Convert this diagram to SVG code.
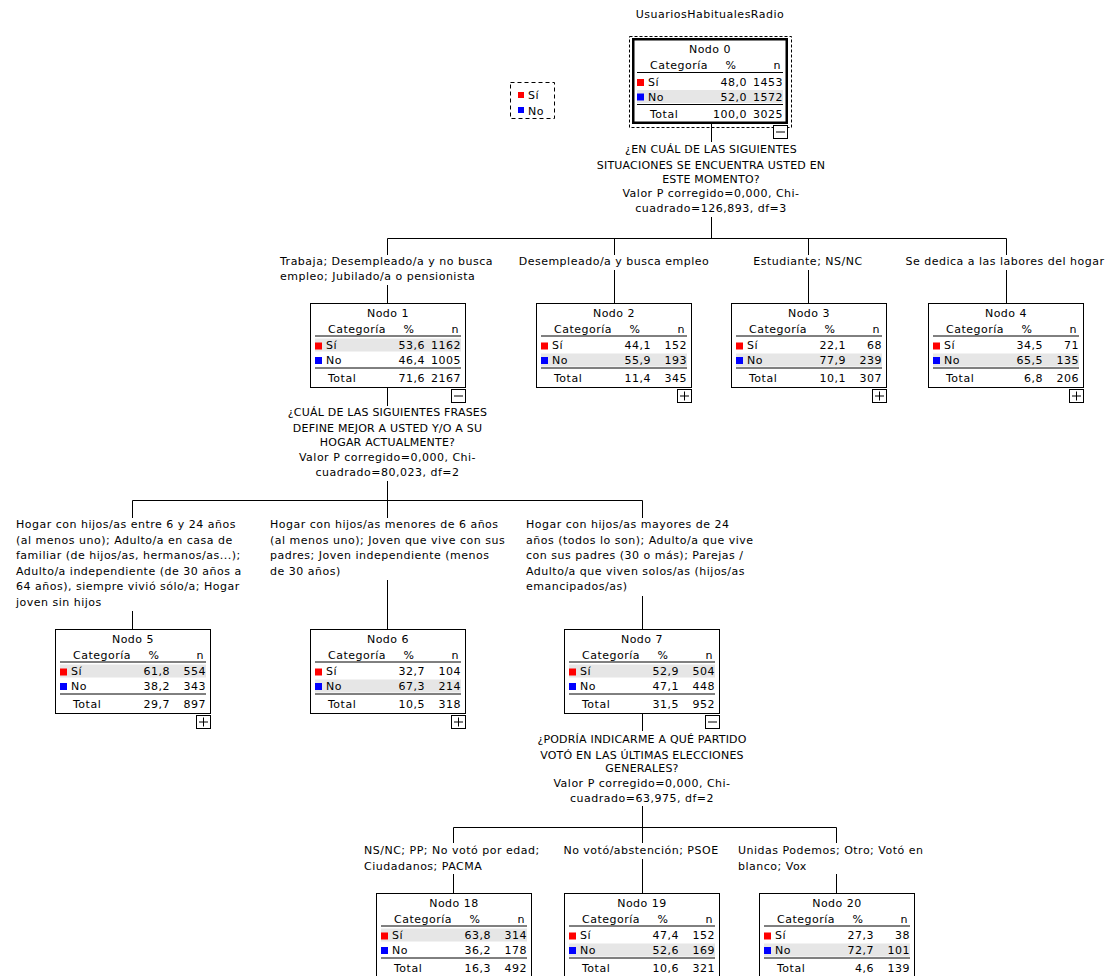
<svg xmlns="http://www.w3.org/2000/svg" width="1106" height="976" viewBox="0 0 1106 976">
<style>
text{font-family:"DejaVu Sans",sans-serif;font-size:11px;letter-spacing:0.5px;fill:#000}
.u{letter-spacing:0.2px}
.m{text-anchor:middle}
.e{text-anchor:end}
.box{fill:#fff;stroke:#000;stroke-width:1}
.band{fill:#e6e6e6}
.ln{stroke:#000;stroke-width:1;fill:none}
.r{fill:#ff0000}
.b{fill:#0000ff}
.dash{fill:none;stroke:#000;stroke-width:1;stroke-dasharray:3 2}
</style>
<rect width="1106" height="976" fill="#fff"/>
<text class="m" x="710" y="18">UsuariosHabitualesRadio</text>

<g id="legend">
<rect x="510.5" y="82.5" width="44" height="36" fill="none" stroke="#000" stroke-dasharray="4 3"/>
<rect class="r" x="518" y="92" width="6" height="6"/>
<text x="528" y="99">Sí</text>
<rect class="b" x="518" y="107" width="6" height="6"/>
<text x="528" y="114.5">No</text>
</g>

<g id="connectors">
<path class="ln" d="M711.5 124V142M711.5 217V238.5M387.5 238.5H1006.5M387.5 238.5V255M614.5 238.5V255M808.5 238.5V255M1006.5 238.5V255M387.5 285V303M614.5 270V303M808.5 270V303M1006.5 270V303"/>
<path class="ln" d="M387.5 388V406M387.5 481V500.5M132.5 500.5H642.5M132.5 500.5V518M387.5 500.5V518M642.5 500.5V518M132.5 611V629M387.5 580V629M642.5 596V629"/>
<path class="ln" d="M642.5 714V731M642.5 806V827.5M453.5 827.5H836.5M453.5 827.5V843M642.5 827.5V843M836.5 827.5V843M453.5 874V893M642.5 859V893M836.5 874V893"/>
</g>

<g id="splits">
<text class="u m" x="711" y="153">¿EN CUÁL DE LAS SIGUIENTES</text>
<text class="u m" x="711" y="169">SITUACIONES SE ENCUENTRA USTED EN</text>
<text class="u m" x="711" y="182.5">ESTE MOMENTO?</text>
<text class="m" x="711" y="196.5">Valor P corregido=0,000, Chi-</text>
<text class="m" x="711" y="212">cuadrado=126,893, df=3</text>

<text x="280" y="265">Trabaja; Desempleado/a y no busca</text>
<text x="280" y="280">empleo; Jubilado/a o pensionista</text>
<text class="m" x="614" y="265">Desempleado/a y busca empleo</text>
<text class="m" x="808" y="265">Estudiante; NS/NC</text>
<text class="m" x="1005" y="265">Se dedica a las labores del hogar</text>

<text class="u m" x="387.5" y="416">¿CUÁL DE LAS SIGUIENTES FRASES</text>
<text class="u m" x="387.5" y="431.5">DEFINE MEJOR A USTED Y/O A SU</text>
<text class="u m" x="387.5" y="446">HOGAR ACTUALMENTE?</text>
<text class="m" x="387.5" y="460.5">Valor P corregido=0,000, Chi-</text>
<text class="m" x="387.5" y="476">cuadrado=80,023, df=2</text>

<text x="16" y="528">Hogar con hijos/as entre 6 y 24 años</text>
<text x="16" y="543.5">(al menos uno); Adulto/a en casa de</text>
<text x="16" y="559">familiar (de hijos/as, hermanos/as...);</text>
<text x="16" y="574.5">Adulto/a independiente (de 30 años a</text>
<text x="16" y="590">64 años), siempre vivió sólo/a; Hogar</text>
<text x="16" y="605.5">joven sin hijos</text>

<text x="270" y="528">Hogar con hijos/as menores de 6 años</text>
<text x="270" y="543.5">(al menos uno); Joven que vive con sus</text>
<text x="270" y="559">padres; Joven independiente (menos</text>
<text x="270" y="574.5">de 30 años)</text>

<text x="526" y="528">Hogar con hijos/as mayores de 24</text>
<text x="526" y="543.5">años (todos lo son); Adulto/a que vive</text>
<text x="526" y="559">con sus padres (30 o más); Parejas /</text>
<text x="526" y="574.5">Adulto/a que viven solos/as (hijos/as</text>
<text x="526" y="590">emancipados/as)</text>

<text class="u m" x="642" y="742.5">¿PODRÍA INDICARME A QUÉ PARTIDO</text>
<text class="u m" x="642" y="758.5">VOTÓ EN LAS ÚLTIMAS ELECCIONES</text>
<text class="u m" x="642" y="772">GENERALES?</text>
<text class="m" x="642" y="786.5">Valor P corregido=0,000, Chi-</text>
<text class="m" x="642" y="802">cuadrado=63,975, df=2</text>

<text x="364" y="854">NS/NC; PP; No votó por edad;</text>
<text x="364" y="869.5">Ciudadanos; PACMA</text>
<text class="m" x="641" y="854">No votó/abstención; PSOE</text>
<text x="738" y="854">Unidas Podemos; Otro; Votó en</text>
<text x="738" y="869.5">blanco; Vox</text>
</g>

<g id="node0">
<rect class="dash" x="629.5" y="36.5" width="162" height="91"/>
<rect x="633.25" y="39.25" width="153.5" height="83.5" fill="#fff" stroke="#000" stroke-width="2.5"/>
<rect class="band" x="637" y="90" width="146" height="13"/>
<text class="m" x="710" y="53">Nodo 0</text>
<text x="650" y="69">Categoría</text>
<text class="m" x="731" y="69">%</text>
<text class="e" x="781" y="69">n</text>
<line class="ln" x1="637" y1="72.5" x2="783" y2="72.5"/>
<rect class="r" x="637" y="79" width="7" height="7"/>
<text x="648" y="85.5">Sí</text>
<text class="e" x="747" y="85.5">48,0</text>
<text class="e" x="783" y="85.5">1453</text>
<rect class="b" x="637" y="93.5" width="7" height="7"/>
<text x="648" y="100.5">No</text>
<text class="e" x="747" y="100.5">52,0</text>
<text class="e" x="783" y="100.5">1572</text>
<line class="ln" x1="637" y1="104.5" x2="783" y2="104.5"/>
<text x="650" y="118">Total</text>
<text class="e" x="747" y="118">100,0</text>
<text class="e" x="783" y="118">3025</text>
<rect class="box" x="773.5" y="125.5" width="14" height="13"/>
<line class="ln" x1="776" y1="132" x2="785" y2="132"/>
</g>

<g id="node1">
<rect class="box" x="310.5" y="303.5" width="155" height="84"/>
<rect class="band" x="315" y="338.5" width="146" height="13"/>
<text class="m" x="388" y="317">Nodo 1</text>
<text x="328" y="333">Categoría</text>
<text class="m" x="409" y="333">%</text>
<text class="e" x="459" y="333">n</text>
<line class="ln" x1="315" y1="336" x2="461" y2="336"/>
<rect class="r" x="315" y="342.5" width="7" height="7"/>
<text x="326" y="348.5">Sí</text>
<text class="e" x="425" y="348.5">53,6</text>
<text class="e" x="461" y="348.5">1162</text>
<rect class="b" x="315" y="357" width="7" height="7"/>
<text x="326" y="363.5">No</text>
<text class="e" x="425" y="363.5">46,4</text>
<text class="e" x="461" y="363.5">1005</text>
<line class="ln" x1="315" y1="368" x2="461" y2="368"/>
<text x="328" y="381.5">Total</text>
<text class="e" x="425" y="381.5">71,6</text>
<text class="e" x="461" y="381.5">2167</text>
<rect class="box" x="451.5" y="389.5" width="14" height="13"/>
<line class="ln" x1="454" y1="396" x2="463" y2="396"/>
</g>

<g id="node2">
<rect class="box" x="536.5" y="303.5" width="155" height="84"/>
<rect class="band" x="541" y="353.5" width="146" height="13"/>
<text class="m" x="614" y="317">Nodo 2</text>
<text x="554" y="333">Categoría</text>
<text class="m" x="635" y="333">%</text>
<text class="e" x="685" y="333">n</text>
<line class="ln" x1="541" y1="336" x2="687" y2="336"/>
<rect class="r" x="541" y="342.5" width="7" height="7"/>
<text x="552" y="348.5">Sí</text>
<text class="e" x="651" y="348.5">44,1</text>
<text class="e" x="687" y="348.5">152</text>
<rect class="b" x="541" y="357" width="7" height="7"/>
<text x="552" y="363.5">No</text>
<text class="e" x="651" y="363.5">55,9</text>
<text class="e" x="687" y="363.5">193</text>
<line class="ln" x1="541" y1="368" x2="687" y2="368"/>
<text x="554" y="381.5">Total</text>
<text class="e" x="651" y="381.5">11,4</text>
<text class="e" x="687" y="381.5">345</text>
<rect class="box" x="677.5" y="389.5" width="14" height="13"/>
<path class="ln" d="M680 396H689M684.5 391.5V400.5"/>
</g>

<g id="node3">
<rect class="box" x="731.5" y="303.5" width="155" height="84"/>
<rect class="band" x="736" y="353.5" width="146" height="13"/>
<text class="m" x="809" y="317">Nodo 3</text>
<text x="749" y="333">Categoría</text>
<text class="m" x="830" y="333">%</text>
<text class="e" x="880" y="333">n</text>
<line class="ln" x1="736" y1="336" x2="882" y2="336"/>
<rect class="r" x="736" y="342.5" width="7" height="7"/>
<text x="747" y="348.5">Sí</text>
<text class="e" x="846" y="348.5">22,1</text>
<text class="e" x="882" y="348.5">68</text>
<rect class="b" x="736" y="357" width="7" height="7"/>
<text x="747" y="363.5">No</text>
<text class="e" x="846" y="363.5">77,9</text>
<text class="e" x="882" y="363.5">239</text>
<line class="ln" x1="736" y1="368" x2="882" y2="368"/>
<text x="749" y="381.5">Total</text>
<text class="e" x="846" y="381.5">10,1</text>
<text class="e" x="882" y="381.5">307</text>
<rect class="box" x="872.5" y="389.5" width="14" height="13"/>
<path class="ln" d="M875 396H884M879.5 391.5V400.5"/>
</g>

<g id="node4">
<rect class="box" x="928.5" y="303.5" width="155" height="84"/>
<rect class="band" x="933" y="353.5" width="146" height="13"/>
<text class="m" x="1006" y="317">Nodo 4</text>
<text x="946" y="333">Categoría</text>
<text class="m" x="1027" y="333">%</text>
<text class="e" x="1077" y="333">n</text>
<line class="ln" x1="933" y1="336" x2="1079" y2="336"/>
<rect class="r" x="933" y="342.5" width="7" height="7"/>
<text x="944" y="348.5">Sí</text>
<text class="e" x="1043" y="348.5">34,5</text>
<text class="e" x="1079" y="348.5">71</text>
<rect class="b" x="933" y="357" width="7" height="7"/>
<text x="944" y="363.5">No</text>
<text class="e" x="1043" y="363.5">65,5</text>
<text class="e" x="1079" y="363.5">135</text>
<line class="ln" x1="933" y1="368" x2="1079" y2="368"/>
<text x="946" y="381.5">Total</text>
<text class="e" x="1043" y="381.5">6,8</text>
<text class="e" x="1079" y="381.5">206</text>
<rect class="box" x="1069.5" y="389.5" width="14" height="13"/>
<path class="ln" d="M1072 396H1081M1076.5 391.5V400.5"/>
</g>

<g id="node5">
<rect class="box" x="55.5" y="629.5" width="155" height="84"/>
<rect class="band" x="60" y="664.5" width="146" height="13"/>
<text class="m" x="133" y="643">Nodo 5</text>
<text x="73" y="659">Categoría</text>
<text class="m" x="154" y="659">%</text>
<text class="e" x="204" y="659">n</text>
<line class="ln" x1="60" y1="662" x2="206" y2="662"/>
<rect class="r" x="60" y="668.5" width="7" height="7"/>
<text x="71" y="674.5">Sí</text>
<text class="e" x="170" y="674.5">61,8</text>
<text class="e" x="206" y="674.5">554</text>
<rect class="b" x="60" y="683" width="7" height="7"/>
<text x="71" y="689.5">No</text>
<text class="e" x="170" y="689.5">38,2</text>
<text class="e" x="206" y="689.5">343</text>
<line class="ln" x1="60" y1="694" x2="206" y2="694"/>
<text x="73" y="707.5">Total</text>
<text class="e" x="170" y="707.5">29,7</text>
<text class="e" x="206" y="707.5">897</text>
<rect class="box" x="196.5" y="715.5" width="14" height="13"/>
<path class="ln" d="M199 722H208M203.5 717.5V726.5"/>
</g>

<g id="node6">
<rect class="box" x="310.5" y="629.5" width="155" height="84"/>
<rect class="band" x="315" y="679.5" width="146" height="13"/>
<text class="m" x="388" y="643">Nodo 6</text>
<text x="328" y="659">Categoría</text>
<text class="m" x="409" y="659">%</text>
<text class="e" x="459" y="659">n</text>
<line class="ln" x1="315" y1="662" x2="461" y2="662"/>
<rect class="r" x="315" y="668.5" width="7" height="7"/>
<text x="326" y="674.5">Sí</text>
<text class="e" x="425" y="674.5">32,7</text>
<text class="e" x="461" y="674.5">104</text>
<rect class="b" x="315" y="683" width="7" height="7"/>
<text x="326" y="689.5">No</text>
<text class="e" x="425" y="689.5">67,3</text>
<text class="e" x="461" y="689.5">214</text>
<line class="ln" x1="315" y1="694" x2="461" y2="694"/>
<text x="328" y="707.5">Total</text>
<text class="e" x="425" y="707.5">10,5</text>
<text class="e" x="461" y="707.5">318</text>
<rect class="box" x="451.5" y="715.5" width="14" height="13"/>
<path class="ln" d="M454 722H463M458.5 717.5V726.5"/>
</g>

<g id="node7">
<rect class="box" x="564.5" y="629.5" width="155" height="84"/>
<rect class="band" x="569" y="664.5" width="146" height="13"/>
<text class="m" x="642" y="643">Nodo 7</text>
<text x="582" y="659">Categoría</text>
<text class="m" x="663" y="659">%</text>
<text class="e" x="713" y="659">n</text>
<line class="ln" x1="569" y1="662" x2="715" y2="662"/>
<rect class="r" x="569" y="668.5" width="7" height="7"/>
<text x="580" y="674.5">Sí</text>
<text class="e" x="679" y="674.5">52,9</text>
<text class="e" x="715" y="674.5">504</text>
<rect class="b" x="569" y="683" width="7" height="7"/>
<text x="580" y="689.5">No</text>
<text class="e" x="679" y="689.5">47,1</text>
<text class="e" x="715" y="689.5">448</text>
<line class="ln" x1="569" y1="694" x2="715" y2="694"/>
<text x="582" y="707.5">Total</text>
<text class="e" x="679" y="707.5">31,5</text>
<text class="e" x="715" y="707.5">952</text>
<rect class="box" x="705.5" y="715.5" width="14" height="13"/>
<line class="ln" x1="708" y1="722" x2="717" y2="722"/>
</g>

<g id="node18">
<rect class="box" x="376.5" y="893.5" width="155" height="84"/>
<rect class="band" x="381" y="928.5" width="146" height="13"/>
<text class="m" x="454" y="907">Nodo 18</text>
<text x="394" y="923">Categoría</text>
<text class="m" x="475" y="923">%</text>
<text class="e" x="525" y="923">n</text>
<line class="ln" x1="381" y1="926" x2="527" y2="926"/>
<rect class="r" x="381" y="932.5" width="7" height="7"/>
<text x="392" y="938.5">Sí</text>
<text class="e" x="491" y="938.5">63,8</text>
<text class="e" x="527" y="938.5">314</text>
<rect class="b" x="381" y="947" width="7" height="7"/>
<text x="392" y="953.5">No</text>
<text class="e" x="491" y="953.5">36,2</text>
<text class="e" x="527" y="953.5">178</text>
<line class="ln" x1="381" y1="958" x2="527" y2="958"/>
<text x="394" y="971.5">Total</text>
<text class="e" x="491" y="971.5">16,3</text>
<text class="e" x="527" y="971.5">492</text>
</g>

<g id="node19">
<rect class="box" x="564.5" y="893.5" width="155" height="84"/>
<rect class="band" x="569" y="943.5" width="146" height="13"/>
<text class="m" x="642" y="907">Nodo 19</text>
<text x="582" y="923">Categoría</text>
<text class="m" x="663" y="923">%</text>
<text class="e" x="713" y="923">n</text>
<line class="ln" x1="569" y1="926" x2="715" y2="926"/>
<rect class="r" x="569" y="932.5" width="7" height="7"/>
<text x="580" y="938.5">Sí</text>
<text class="e" x="679" y="938.5">47,4</text>
<text class="e" x="715" y="938.5">152</text>
<rect class="b" x="569" y="947" width="7" height="7"/>
<text x="580" y="953.5">No</text>
<text class="e" x="679" y="953.5">52,6</text>
<text class="e" x="715" y="953.5">169</text>
<line class="ln" x1="569" y1="958" x2="715" y2="958"/>
<text x="582" y="971.5">Total</text>
<text class="e" x="679" y="971.5">10,6</text>
<text class="e" x="715" y="971.5">321</text>
</g>

<g id="node20">
<rect class="box" x="759.5" y="893.5" width="155" height="84"/>
<rect class="band" x="764" y="943.5" width="146" height="13"/>
<text class="m" x="837" y="907">Nodo 20</text>
<text x="777" y="923">Categoría</text>
<text class="m" x="858" y="923">%</text>
<text class="e" x="908" y="923">n</text>
<line class="ln" x1="764" y1="926" x2="910" y2="926"/>
<rect class="r" x="764" y="932.5" width="7" height="7"/>
<text x="775" y="938.5">Sí</text>
<text class="e" x="874" y="938.5">27,3</text>
<text class="e" x="910" y="938.5">38</text>
<rect class="b" x="764" y="947" width="7" height="7"/>
<text x="775" y="953.5">No</text>
<text class="e" x="874" y="953.5">72,7</text>
<text class="e" x="910" y="953.5">101</text>
<line class="ln" x1="764" y1="958" x2="910" y2="958"/>
<text x="777" y="971.5">Total</text>
<text class="e" x="874" y="971.5">4,6</text>
<text class="e" x="910" y="971.5">139</text>
</g>
</svg>
